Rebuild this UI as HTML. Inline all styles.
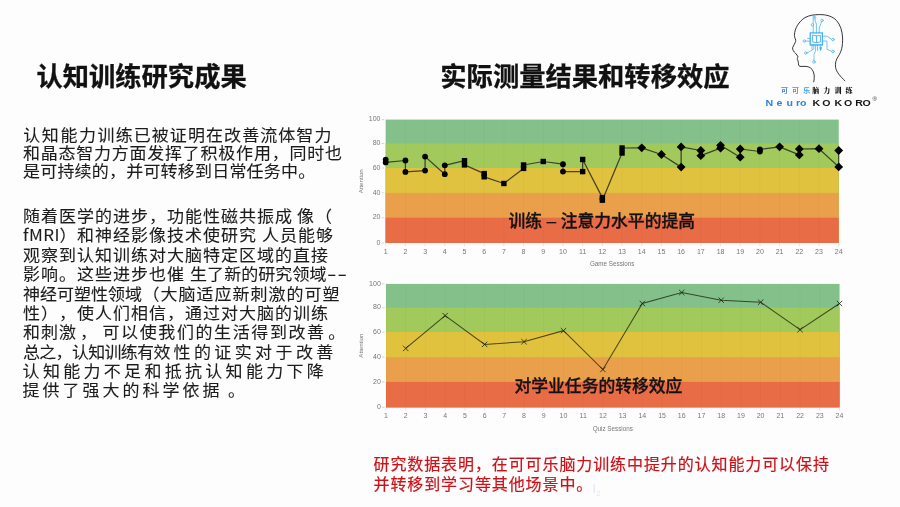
<!DOCTYPE html>
<html lang="zh-CN"><head><meta charset="utf-8"><title>认知训练研究成果</title>
<style>
html,body{margin:0;padding:0;}
body{width:900px;height:507px;overflow:hidden;background:#fdfdfd;position:relative;font-family:"Liberation Sans","Noto Sans CJK SC",sans-serif;color:#1a1a1a;}
.a{position:absolute;white-space:nowrap;}
.h{position:absolute;white-space:nowrap;font-size:26.3px;line-height:26px;font-weight:bold;color:#111;-webkit-text-stroke:0.3px #111;font-family:"Noto Sans CJK SC",sans-serif;}
.ln{position:absolute;white-space:nowrap;font-size:17px;line-height:17px;color:#1c1c1c;font-family:"Noto Sans CJK SC",sans-serif;transform:scaleY(0.95);transform-origin:0 0;-webkit-text-stroke:0.1px #1c1c1c;text-spacing-trim:space-all;}
.red{position:absolute;white-space:nowrap;font-size:16px;line-height:17px;letter-spacing:0.9px;color:#cc1219;-webkit-text-stroke:0.2px #cc1219;font-family:"Noto Sans CJK SC",sans-serif;}
svg text.ax{font-family:"Liberation Sans",sans-serif;font-size:7px;fill:#777;}
svg text.lg1{font-family:"Noto Sans CJK SC",sans-serif;font-size:7px;font-weight:bold;letter-spacing:4.1px;}
svg text.lg2{font-family:"Noto Serif CJK SC",serif;font-size:7px;font-weight:900;letter-spacing:4.1px;fill:#111;}
svg text.lg3{font-family:"Liberation Sans",sans-serif;font-size:9.4px;font-weight:bold;}
svg text.lg4{font-family:"Liberation Sans",sans-serif;font-size:6px;fill:#333;}
svg text.ax3{font-family:"Liberation Sans",sans-serif;font-size:6.3px;fill:#777;}
svg text.ax2{font-family:"Liberation Sans",sans-serif;font-size:6.1px;fill:#777;}
.ov{position:absolute;white-space:nowrap;font-size:16.8px;line-height:17px;font-weight:500;color:#161212;-webkit-text-stroke:0.3px #161212;font-family:"Liberation Sans","Noto Sans CJK SC",sans-serif;}
</style></head><body>
<div class="h" style="left:36.4px;top:61.8px">认知训练研究成果</div>
<div class="h" style="left:440.3px;top:61.8px">实际测量结果和转移效应</div>
<div class="ln" style="top:125.8px;left:23.2px;letter-spacing:1.60px;">认知能力</div>
<div class="ln" style="top:125.8px;left:97.6px;letter-spacing:1.07px;">训练已被证明在改善流体智力</div>
<div class="ln" style="top:143.8px;left:23px;letter-spacing:0.76px;">和晶态智力方面发挥了积极作用，同时也</div>
<div class="ln" style="top:161.8px;left:23px;letter-spacing:0.20px;">是可持续的，并可转移到日常任务中。</div>
<div class="ln" style="top:207.0px;left:23px;letter-spacing:1.00px;">随着医学的进步，功能性磁共振成</div>
<div class="ln" style="top:207.0px;left:297px;letter-spacing:1.00px;">像（</div>
<div class="ln" style="top:226.4px;left:23px;letter-spacing:0.50px;">fMRI</div>
<div class="ln" style="top:226.4px;left:59.5px;letter-spacing:1.00px;">）</div>
<div class="ln" style="top:226.4px;left:77px;letter-spacing:1.00px;">和神经影像技术使研究</div>
<div class="ln" style="top:226.4px;left:262px;letter-spacing:1.00px;">人员能够</div>
<div class="ln" style="top:245.7px;left:23px;letter-spacing:1.00px;">观察到认知训练对大脑特定区域的直接</div>
<div class="ln" style="top:265.1px;left:23px;letter-spacing:1.00px;">影响。这些进步也催</div>
<div class="ln" style="top:265.1px;left:190px;letter-spacing:0.07px;">生了新的研究领域</div>
<div class="ln" style="top:265.1px;left:327px;letter-spacing:0.60px;transform:scale(1.6,0.95);">--</div>
<div class="ln" style="top:284.5px;left:23px;letter-spacing:0.00px;">神经可塑性领域</div>
<div class="ln" style="top:284.5px;left:142.5px;letter-spacing:1.00px;">（</div>
<div class="ln" style="top:284.5px;left:160.5px;letter-spacing:1.00px;">大脑适应新刺激的可塑</div>
<div class="ln" style="top:303.9px;left:23px;letter-spacing:1.00px;">性），使人们相信，通过对大脑的训练</div>
<div class="ln" style="top:323.2px;left:23px;letter-spacing:1.00px;">和刺激</div>
<div class="ln" style="top:323.2px;left:80px;letter-spacing:1.00px;">，</div>
<div class="ln" style="top:323.2px;left:102.5px;letter-spacing:1.60px;">可以使我们的生活得到改善</div>
<div class="ln" style="top:323.2px;left:328.3px;letter-spacing:1.00px;">。</div>
<div class="ln" style="top:342.6px;left:23px;letter-spacing:-0.70px;">总之，认知训练有效</div>
<div class="ln" style="top:342.6px;left:173.5px;letter-spacing:3.40px;">性的证实对于改善</div>
<div class="ln" style="top:362.0px;left:22.6px;letter-spacing:3.30px;">认知能力不足和抵抗认知能力下降</div>
<div class="ln" style="top:381.3px;left:22.6px;letter-spacing:3.00px;">提供了强大的科学依据</div>
<div class="ln" style="top:381.3px;left:228px;letter-spacing:1.00px;">。</div>
<svg class="a" style="left:0;top:0" width="900" height="507" viewBox="0 0 900 507">
<rect x="385.70" y="119.60" width="453.00" height="123.40" fill="#84c18a"/>
<rect x="385.70" y="143.50" width="453.00" height="99.50" fill="#a2c95b"/>
<rect x="385.70" y="168.00" width="453.00" height="75.00" fill="#e0c23e"/>
<rect x="385.70" y="192.90" width="453.00" height="50.10" fill="#eaa04b"/>
<rect x="385.70" y="217.70" width="453.00" height="25.30" fill="#e86c45"/>
<line x1="385.70" y1="119.60" x2="385.70" y2="243.00" stroke="#000" stroke-opacity="0.025" stroke-width="1"/>
<line x1="385.70" y1="243.50" x2="385.70" y2="246.20" stroke="#d8d8d8" stroke-width="0.7"/>
<line x1="405.40" y1="119.60" x2="405.40" y2="243.00" stroke="#000" stroke-opacity="0.025" stroke-width="1"/>
<line x1="405.40" y1="243.50" x2="405.40" y2="246.20" stroke="#d8d8d8" stroke-width="0.7"/>
<line x1="425.09" y1="119.60" x2="425.09" y2="243.00" stroke="#000" stroke-opacity="0.025" stroke-width="1"/>
<line x1="425.09" y1="243.50" x2="425.09" y2="246.20" stroke="#d8d8d8" stroke-width="0.7"/>
<line x1="444.79" y1="119.60" x2="444.79" y2="243.00" stroke="#000" stroke-opacity="0.025" stroke-width="1"/>
<line x1="444.79" y1="243.50" x2="444.79" y2="246.20" stroke="#d8d8d8" stroke-width="0.7"/>
<line x1="464.48" y1="119.60" x2="464.48" y2="243.00" stroke="#000" stroke-opacity="0.025" stroke-width="1"/>
<line x1="464.48" y1="243.50" x2="464.48" y2="246.20" stroke="#d8d8d8" stroke-width="0.7"/>
<line x1="484.18" y1="119.60" x2="484.18" y2="243.00" stroke="#000" stroke-opacity="0.025" stroke-width="1"/>
<line x1="484.18" y1="243.50" x2="484.18" y2="246.20" stroke="#d8d8d8" stroke-width="0.7"/>
<line x1="503.87" y1="119.60" x2="503.87" y2="243.00" stroke="#000" stroke-opacity="0.025" stroke-width="1"/>
<line x1="503.87" y1="243.50" x2="503.87" y2="246.20" stroke="#d8d8d8" stroke-width="0.7"/>
<line x1="523.57" y1="119.60" x2="523.57" y2="243.00" stroke="#000" stroke-opacity="0.025" stroke-width="1"/>
<line x1="523.57" y1="243.50" x2="523.57" y2="246.20" stroke="#d8d8d8" stroke-width="0.7"/>
<line x1="543.27" y1="119.60" x2="543.27" y2="243.00" stroke="#000" stroke-opacity="0.025" stroke-width="1"/>
<line x1="543.27" y1="243.50" x2="543.27" y2="246.20" stroke="#d8d8d8" stroke-width="0.7"/>
<line x1="562.96" y1="119.60" x2="562.96" y2="243.00" stroke="#000" stroke-opacity="0.025" stroke-width="1"/>
<line x1="562.96" y1="243.50" x2="562.96" y2="246.20" stroke="#d8d8d8" stroke-width="0.7"/>
<line x1="582.66" y1="119.60" x2="582.66" y2="243.00" stroke="#000" stroke-opacity="0.025" stroke-width="1"/>
<line x1="582.66" y1="243.50" x2="582.66" y2="246.20" stroke="#d8d8d8" stroke-width="0.7"/>
<line x1="602.35" y1="119.60" x2="602.35" y2="243.00" stroke="#000" stroke-opacity="0.025" stroke-width="1"/>
<line x1="602.35" y1="243.50" x2="602.35" y2="246.20" stroke="#d8d8d8" stroke-width="0.7"/>
<line x1="622.05" y1="119.60" x2="622.05" y2="243.00" stroke="#000" stroke-opacity="0.025" stroke-width="1"/>
<line x1="622.05" y1="243.50" x2="622.05" y2="246.20" stroke="#d8d8d8" stroke-width="0.7"/>
<line x1="641.74" y1="119.60" x2="641.74" y2="243.00" stroke="#000" stroke-opacity="0.025" stroke-width="1"/>
<line x1="641.74" y1="243.50" x2="641.74" y2="246.20" stroke="#d8d8d8" stroke-width="0.7"/>
<line x1="661.44" y1="119.60" x2="661.44" y2="243.00" stroke="#000" stroke-opacity="0.025" stroke-width="1"/>
<line x1="661.44" y1="243.50" x2="661.44" y2="246.20" stroke="#d8d8d8" stroke-width="0.7"/>
<line x1="681.13" y1="119.60" x2="681.13" y2="243.00" stroke="#000" stroke-opacity="0.025" stroke-width="1"/>
<line x1="681.13" y1="243.50" x2="681.13" y2="246.20" stroke="#d8d8d8" stroke-width="0.7"/>
<line x1="700.83" y1="119.60" x2="700.83" y2="243.00" stroke="#000" stroke-opacity="0.025" stroke-width="1"/>
<line x1="700.83" y1="243.50" x2="700.83" y2="246.20" stroke="#d8d8d8" stroke-width="0.7"/>
<line x1="720.53" y1="119.60" x2="720.53" y2="243.00" stroke="#000" stroke-opacity="0.025" stroke-width="1"/>
<line x1="720.53" y1="243.50" x2="720.53" y2="246.20" stroke="#d8d8d8" stroke-width="0.7"/>
<line x1="740.22" y1="119.60" x2="740.22" y2="243.00" stroke="#000" stroke-opacity="0.025" stroke-width="1"/>
<line x1="740.22" y1="243.50" x2="740.22" y2="246.20" stroke="#d8d8d8" stroke-width="0.7"/>
<line x1="759.92" y1="119.60" x2="759.92" y2="243.00" stroke="#000" stroke-opacity="0.025" stroke-width="1"/>
<line x1="759.92" y1="243.50" x2="759.92" y2="246.20" stroke="#d8d8d8" stroke-width="0.7"/>
<line x1="779.61" y1="119.60" x2="779.61" y2="243.00" stroke="#000" stroke-opacity="0.025" stroke-width="1"/>
<line x1="779.61" y1="243.50" x2="779.61" y2="246.20" stroke="#d8d8d8" stroke-width="0.7"/>
<line x1="799.31" y1="119.60" x2="799.31" y2="243.00" stroke="#000" stroke-opacity="0.025" stroke-width="1"/>
<line x1="799.31" y1="243.50" x2="799.31" y2="246.20" stroke="#d8d8d8" stroke-width="0.7"/>
<line x1="819.00" y1="119.60" x2="819.00" y2="243.00" stroke="#000" stroke-opacity="0.025" stroke-width="1"/>
<line x1="819.00" y1="243.50" x2="819.00" y2="246.20" stroke="#d8d8d8" stroke-width="0.7"/>
<line x1="838.70" y1="119.60" x2="838.70" y2="243.00" stroke="#000" stroke-opacity="0.025" stroke-width="1"/>
<line x1="838.70" y1="243.50" x2="838.70" y2="246.20" stroke="#d8d8d8" stroke-width="0.7"/>
<line x1="381.70" y1="243.00" x2="384.20" y2="243.00" stroke="#ccc" stroke-width="0.8"/>
<text x="380.50" y="244.70" class="ax" text-anchor="end">0</text>
<line x1="381.70" y1="217.70" x2="384.20" y2="217.70" stroke="#ccc" stroke-width="0.8"/>
<text x="380.50" y="219.40" class="ax" text-anchor="end">20</text>
<line x1="381.70" y1="192.90" x2="384.20" y2="192.90" stroke="#ccc" stroke-width="0.8"/>
<text x="380.50" y="194.60" class="ax" text-anchor="end">40</text>
<line x1="381.70" y1="168.00" x2="384.20" y2="168.00" stroke="#ccc" stroke-width="0.8"/>
<text x="380.50" y="169.70" class="ax" text-anchor="end">60</text>
<line x1="381.70" y1="143.50" x2="384.20" y2="143.50" stroke="#ccc" stroke-width="0.8"/>
<text x="380.50" y="145.20" class="ax" text-anchor="end">80</text>
<line x1="381.70" y1="119.60" x2="384.20" y2="119.60" stroke="#ccc" stroke-width="0.8"/>
<text x="380.50" y="121.30" class="ax" text-anchor="end">100</text>
<text x="385.70" y="253.80" class="ax" text-anchor="middle">1</text>
<text x="405.40" y="253.80" class="ax" text-anchor="middle">2</text>
<text x="425.09" y="253.80" class="ax" text-anchor="middle">3</text>
<text x="444.79" y="253.80" class="ax" text-anchor="middle">4</text>
<text x="464.48" y="253.80" class="ax" text-anchor="middle">5</text>
<text x="484.18" y="253.80" class="ax" text-anchor="middle">6</text>
<text x="503.87" y="253.80" class="ax" text-anchor="middle">7</text>
<text x="523.57" y="253.80" class="ax" text-anchor="middle">8</text>
<text x="543.27" y="253.80" class="ax" text-anchor="middle">9</text>
<text x="562.96" y="253.80" class="ax" text-anchor="middle">10</text>
<text x="582.66" y="253.80" class="ax" text-anchor="middle">11</text>
<text x="602.35" y="253.80" class="ax" text-anchor="middle">12</text>
<text x="622.05" y="253.80" class="ax" text-anchor="middle">13</text>
<text x="641.74" y="253.80" class="ax" text-anchor="middle">14</text>
<text x="661.44" y="253.80" class="ax" text-anchor="middle">15</text>
<text x="681.13" y="253.80" class="ax" text-anchor="middle">16</text>
<text x="700.83" y="253.80" class="ax" text-anchor="middle">17</text>
<text x="720.53" y="253.80" class="ax" text-anchor="middle">18</text>
<text x="740.22" y="253.80" class="ax" text-anchor="middle">19</text>
<text x="759.92" y="253.80" class="ax" text-anchor="middle">20</text>
<text x="779.61" y="253.80" class="ax" text-anchor="middle">21</text>
<text x="799.31" y="253.80" class="ax" text-anchor="middle">22</text>
<text x="819.00" y="253.80" class="ax" text-anchor="middle">23</text>
<text x="838.70" y="253.80" class="ax" text-anchor="middle">24</text>
<text x="612.20" y="266.20" class="ax3" text-anchor="middle">Game Sessions</text>
<text transform="translate(362.80,181.30) rotate(-90)" class="ax2" text-anchor="middle">Attention</text>
<polyline points="385.70,159.60 385.70,162.40 405.40,160.50 405.40,171.90 425.09,170.60 425.09,156.60 444.79,174.20 444.79,165.30 464.48,160.70 464.48,164.90 484.18,173.60 484.18,176.80 503.87,183.50 523.57,168.40 523.57,165.00 543.27,161.50 562.96,164.20 562.96,171.60 582.66,171.60 582.66,159.50 602.35,197.60 602.35,200.20 622.05,153.00 622.05,148.00 641.74,147.80 661.44,154.50 681.13,167.10 681.13,146.90 700.83,150.50 700.83,155.70 720.53,148.20 720.53,145.30 740.22,157.20 740.22,149.00 759.92,151.50 759.92,149.50 779.61,146.80 799.31,154.90 799.31,149.00 819.00,148.70 838.70,166.90 838.70,150.50" fill="none" stroke="#1e1e1e" stroke-opacity="0.78" stroke-width="1.25" stroke-linejoin="round"/>
<circle cx="385.70" cy="159.60" r="2.9" fill="#000"/>
<circle cx="385.70" cy="162.40" r="2.9" fill="#000"/>
<circle cx="405.40" cy="160.50" r="2.9" fill="#000"/>
<circle cx="405.40" cy="171.90" r="2.9" fill="#000"/>
<circle cx="425.09" cy="170.60" r="2.9" fill="#000"/>
<circle cx="425.09" cy="156.60" r="2.9" fill="#000"/>
<circle cx="444.79" cy="174.20" r="2.9" fill="#000"/>
<circle cx="444.79" cy="165.30" r="2.9" fill="#000"/>
<rect x="461.78" y="158.00" width="5.4" height="5.4" fill="#000"/>
<rect x="461.78" y="162.20" width="5.4" height="5.4" fill="#000"/>
<rect x="481.48" y="170.90" width="5.4" height="5.4" fill="#000"/>
<rect x="481.48" y="174.10" width="5.4" height="5.4" fill="#000"/>
<rect x="501.17" y="180.80" width="5.4" height="5.4" fill="#000"/>
<rect x="520.87" y="165.70" width="5.4" height="5.4" fill="#000"/>
<rect x="520.87" y="162.30" width="5.4" height="5.4" fill="#000"/>
<rect x="540.57" y="158.80" width="5.4" height="5.4" fill="#000"/>
<circle cx="562.96" cy="164.20" r="2.9" fill="#000"/>
<circle cx="562.96" cy="171.60" r="2.9" fill="#000"/>
<rect x="579.96" y="168.90" width="5.4" height="5.4" fill="#000"/>
<rect x="579.96" y="156.80" width="5.4" height="5.4" fill="#000"/>
<rect x="599.65" y="194.90" width="5.4" height="5.4" fill="#000"/>
<rect x="599.65" y="197.50" width="5.4" height="5.4" fill="#000"/>
<rect x="619.35" y="150.30" width="5.4" height="5.4" fill="#000"/>
<rect x="619.35" y="145.30" width="5.4" height="5.4" fill="#000"/>
<path d="M641.74 143.40L646.14 147.80L641.74 152.20L637.34 147.80Z" fill="#000"/>
<path d="M661.44 150.10L665.84 154.50L661.44 158.90L657.04 154.50Z" fill="#000"/>
<path d="M681.13 162.70L685.53 167.10L681.13 171.50L676.73 167.10Z" fill="#000"/>
<path d="M681.13 142.50L685.53 146.90L681.13 151.30L676.73 146.90Z" fill="#000"/>
<path d="M700.83 146.10L705.23 150.50L700.83 154.90L696.43 150.50Z" fill="#000"/>
<path d="M700.83 151.30L705.23 155.70L700.83 160.10L696.43 155.70Z" fill="#000"/>
<path d="M720.53 143.80L724.93 148.20L720.53 152.60L716.13 148.20Z" fill="#000"/>
<path d="M720.53 140.90L724.93 145.30L720.53 149.70L716.13 145.30Z" fill="#000"/>
<path d="M740.22 152.80L744.62 157.20L740.22 161.60L735.82 157.20Z" fill="#000"/>
<path d="M740.22 144.60L744.62 149.00L740.22 153.40L735.82 149.00Z" fill="#000"/>
<circle cx="759.92" cy="151.50" r="2.9" fill="#000"/>
<circle cx="759.92" cy="149.50" r="2.9" fill="#000"/>
<path d="M779.61 142.40L784.01 146.80L779.61 151.20L775.21 146.80Z" fill="#000"/>
<path d="M799.31 150.50L803.71 154.90L799.31 159.30L794.91 154.90Z" fill="#000"/>
<path d="M799.31 144.60L803.71 149.00L799.31 153.40L794.91 149.00Z" fill="#000"/>
<path d="M819.00 144.30L823.40 148.70L819.00 153.10L814.60 148.70Z" fill="#000"/>
<path d="M838.70 162.50L843.10 166.90L838.70 171.30L834.30 166.90Z" fill="#000"/>
<path d="M838.70 146.10L843.10 150.50L838.70 154.90L834.30 150.50Z" fill="#000"/>
<rect x="386.00" y="283.90" width="453.50" height="123.40" fill="#84c18a"/>
<rect x="386.00" y="307.70" width="453.50" height="99.60" fill="#a2c95b"/>
<rect x="386.00" y="332.00" width="453.50" height="75.30" fill="#e0c23e"/>
<rect x="386.00" y="357.20" width="453.50" height="50.10" fill="#eaa04b"/>
<rect x="386.00" y="381.90" width="453.50" height="25.40" fill="#e86c45"/>
<line x1="386.00" y1="283.90" x2="386.00" y2="407.30" stroke="#000" stroke-opacity="0.025" stroke-width="1"/>
<line x1="386.00" y1="407.80" x2="386.00" y2="410.50" stroke="#d8d8d8" stroke-width="0.7"/>
<line x1="405.72" y1="283.90" x2="405.72" y2="407.30" stroke="#000" stroke-opacity="0.025" stroke-width="1"/>
<line x1="405.72" y1="407.80" x2="405.72" y2="410.50" stroke="#d8d8d8" stroke-width="0.7"/>
<line x1="425.43" y1="283.90" x2="425.43" y2="407.30" stroke="#000" stroke-opacity="0.025" stroke-width="1"/>
<line x1="425.43" y1="407.80" x2="425.43" y2="410.50" stroke="#d8d8d8" stroke-width="0.7"/>
<line x1="445.15" y1="283.90" x2="445.15" y2="407.30" stroke="#000" stroke-opacity="0.025" stroke-width="1"/>
<line x1="445.15" y1="407.80" x2="445.15" y2="410.50" stroke="#d8d8d8" stroke-width="0.7"/>
<line x1="464.87" y1="283.90" x2="464.87" y2="407.30" stroke="#000" stroke-opacity="0.025" stroke-width="1"/>
<line x1="464.87" y1="407.80" x2="464.87" y2="410.50" stroke="#d8d8d8" stroke-width="0.7"/>
<line x1="484.59" y1="283.90" x2="484.59" y2="407.30" stroke="#000" stroke-opacity="0.025" stroke-width="1"/>
<line x1="484.59" y1="407.80" x2="484.59" y2="410.50" stroke="#d8d8d8" stroke-width="0.7"/>
<line x1="504.30" y1="283.90" x2="504.30" y2="407.30" stroke="#000" stroke-opacity="0.025" stroke-width="1"/>
<line x1="504.30" y1="407.80" x2="504.30" y2="410.50" stroke="#d8d8d8" stroke-width="0.7"/>
<line x1="524.02" y1="283.90" x2="524.02" y2="407.30" stroke="#000" stroke-opacity="0.025" stroke-width="1"/>
<line x1="524.02" y1="407.80" x2="524.02" y2="410.50" stroke="#d8d8d8" stroke-width="0.7"/>
<line x1="543.74" y1="283.90" x2="543.74" y2="407.30" stroke="#000" stroke-opacity="0.025" stroke-width="1"/>
<line x1="543.74" y1="407.80" x2="543.74" y2="410.50" stroke="#d8d8d8" stroke-width="0.7"/>
<line x1="563.46" y1="283.90" x2="563.46" y2="407.30" stroke="#000" stroke-opacity="0.025" stroke-width="1"/>
<line x1="563.46" y1="407.80" x2="563.46" y2="410.50" stroke="#d8d8d8" stroke-width="0.7"/>
<line x1="583.17" y1="283.90" x2="583.17" y2="407.30" stroke="#000" stroke-opacity="0.025" stroke-width="1"/>
<line x1="583.17" y1="407.80" x2="583.17" y2="410.50" stroke="#d8d8d8" stroke-width="0.7"/>
<line x1="602.89" y1="283.90" x2="602.89" y2="407.30" stroke="#000" stroke-opacity="0.025" stroke-width="1"/>
<line x1="602.89" y1="407.80" x2="602.89" y2="410.50" stroke="#d8d8d8" stroke-width="0.7"/>
<line x1="622.61" y1="283.90" x2="622.61" y2="407.30" stroke="#000" stroke-opacity="0.025" stroke-width="1"/>
<line x1="622.61" y1="407.80" x2="622.61" y2="410.50" stroke="#d8d8d8" stroke-width="0.7"/>
<line x1="642.33" y1="283.90" x2="642.33" y2="407.30" stroke="#000" stroke-opacity="0.025" stroke-width="1"/>
<line x1="642.33" y1="407.80" x2="642.33" y2="410.50" stroke="#d8d8d8" stroke-width="0.7"/>
<line x1="662.04" y1="283.90" x2="662.04" y2="407.30" stroke="#000" stroke-opacity="0.025" stroke-width="1"/>
<line x1="662.04" y1="407.80" x2="662.04" y2="410.50" stroke="#d8d8d8" stroke-width="0.7"/>
<line x1="681.76" y1="283.90" x2="681.76" y2="407.30" stroke="#000" stroke-opacity="0.025" stroke-width="1"/>
<line x1="681.76" y1="407.80" x2="681.76" y2="410.50" stroke="#d8d8d8" stroke-width="0.7"/>
<line x1="701.48" y1="283.90" x2="701.48" y2="407.30" stroke="#000" stroke-opacity="0.025" stroke-width="1"/>
<line x1="701.48" y1="407.80" x2="701.48" y2="410.50" stroke="#d8d8d8" stroke-width="0.7"/>
<line x1="721.20" y1="283.90" x2="721.20" y2="407.30" stroke="#000" stroke-opacity="0.025" stroke-width="1"/>
<line x1="721.20" y1="407.80" x2="721.20" y2="410.50" stroke="#d8d8d8" stroke-width="0.7"/>
<line x1="740.91" y1="283.90" x2="740.91" y2="407.30" stroke="#000" stroke-opacity="0.025" stroke-width="1"/>
<line x1="740.91" y1="407.80" x2="740.91" y2="410.50" stroke="#d8d8d8" stroke-width="0.7"/>
<line x1="760.63" y1="283.90" x2="760.63" y2="407.30" stroke="#000" stroke-opacity="0.025" stroke-width="1"/>
<line x1="760.63" y1="407.80" x2="760.63" y2="410.50" stroke="#d8d8d8" stroke-width="0.7"/>
<line x1="780.35" y1="283.90" x2="780.35" y2="407.30" stroke="#000" stroke-opacity="0.025" stroke-width="1"/>
<line x1="780.35" y1="407.80" x2="780.35" y2="410.50" stroke="#d8d8d8" stroke-width="0.7"/>
<line x1="800.07" y1="283.90" x2="800.07" y2="407.30" stroke="#000" stroke-opacity="0.025" stroke-width="1"/>
<line x1="800.07" y1="407.80" x2="800.07" y2="410.50" stroke="#d8d8d8" stroke-width="0.7"/>
<line x1="819.78" y1="283.90" x2="819.78" y2="407.30" stroke="#000" stroke-opacity="0.025" stroke-width="1"/>
<line x1="819.78" y1="407.80" x2="819.78" y2="410.50" stroke="#d8d8d8" stroke-width="0.7"/>
<line x1="839.50" y1="283.90" x2="839.50" y2="407.30" stroke="#000" stroke-opacity="0.025" stroke-width="1"/>
<line x1="839.50" y1="407.80" x2="839.50" y2="410.50" stroke="#d8d8d8" stroke-width="0.7"/>
<line x1="382.00" y1="407.30" x2="384.50" y2="407.30" stroke="#ccc" stroke-width="0.8"/>
<text x="380.80" y="409.00" class="ax" text-anchor="end">0</text>
<line x1="382.00" y1="381.90" x2="384.50" y2="381.90" stroke="#ccc" stroke-width="0.8"/>
<text x="380.80" y="383.60" class="ax" text-anchor="end">20</text>
<line x1="382.00" y1="357.20" x2="384.50" y2="357.20" stroke="#ccc" stroke-width="0.8"/>
<text x="380.80" y="358.90" class="ax" text-anchor="end">40</text>
<line x1="382.00" y1="332.00" x2="384.50" y2="332.00" stroke="#ccc" stroke-width="0.8"/>
<text x="380.80" y="333.70" class="ax" text-anchor="end">60</text>
<line x1="382.00" y1="307.70" x2="384.50" y2="307.70" stroke="#ccc" stroke-width="0.8"/>
<text x="380.80" y="309.40" class="ax" text-anchor="end">80</text>
<line x1="382.00" y1="283.90" x2="384.50" y2="283.90" stroke="#ccc" stroke-width="0.8"/>
<text x="380.80" y="285.60" class="ax" text-anchor="end">100</text>
<text x="386.00" y="418.10" class="ax" text-anchor="middle">1</text>
<text x="405.72" y="418.10" class="ax" text-anchor="middle">2</text>
<text x="425.43" y="418.10" class="ax" text-anchor="middle">3</text>
<text x="445.15" y="418.10" class="ax" text-anchor="middle">4</text>
<text x="464.87" y="418.10" class="ax" text-anchor="middle">5</text>
<text x="484.59" y="418.10" class="ax" text-anchor="middle">6</text>
<text x="504.30" y="418.10" class="ax" text-anchor="middle">7</text>
<text x="524.02" y="418.10" class="ax" text-anchor="middle">8</text>
<text x="543.74" y="418.10" class="ax" text-anchor="middle">9</text>
<text x="563.46" y="418.10" class="ax" text-anchor="middle">10</text>
<text x="583.17" y="418.10" class="ax" text-anchor="middle">11</text>
<text x="602.89" y="418.10" class="ax" text-anchor="middle">12</text>
<text x="622.61" y="418.10" class="ax" text-anchor="middle">13</text>
<text x="642.33" y="418.10" class="ax" text-anchor="middle">14</text>
<text x="662.04" y="418.10" class="ax" text-anchor="middle">15</text>
<text x="681.76" y="418.10" class="ax" text-anchor="middle">16</text>
<text x="701.48" y="418.10" class="ax" text-anchor="middle">17</text>
<text x="721.20" y="418.10" class="ax" text-anchor="middle">18</text>
<text x="740.91" y="418.10" class="ax" text-anchor="middle">19</text>
<text x="760.63" y="418.10" class="ax" text-anchor="middle">20</text>
<text x="780.35" y="418.10" class="ax" text-anchor="middle">21</text>
<text x="800.07" y="418.10" class="ax" text-anchor="middle">22</text>
<text x="819.78" y="418.10" class="ax" text-anchor="middle">23</text>
<text x="839.50" y="418.10" class="ax" text-anchor="middle">24</text>
<text x="612.75" y="430.50" class="ax3" text-anchor="middle">Quiz Sessions</text>
<text transform="translate(363.10,345.60) rotate(-90)" class="ax2" text-anchor="middle">Attention</text>
<polyline points="405.72,348.40 445.15,315.60 484.59,344.40 524.02,341.70 563.46,330.70 602.89,369.50 642.33,303.50 681.76,292.50 721.20,300.20 760.63,302.20 800.07,329.70 839.50,303.50" fill="none" stroke="#1a1f08" stroke-opacity="0.75" stroke-width="1.05"/>
<path d="M403.02 345.70L408.42 351.10M408.42 345.70L403.02 351.10" stroke="#1a1f08" stroke-opacity="0.8" stroke-width="1.0" fill="none"/>
<path d="M442.45 312.90L447.85 318.30M447.85 312.90L442.45 318.30" stroke="#1a1f08" stroke-opacity="0.8" stroke-width="1.0" fill="none"/>
<path d="M481.89 341.70L487.29 347.10M487.29 341.70L481.89 347.10" stroke="#1a1f08" stroke-opacity="0.8" stroke-width="1.0" fill="none"/>
<path d="M521.32 339.00L526.72 344.40M526.72 339.00L521.32 344.40" stroke="#1a1f08" stroke-opacity="0.8" stroke-width="1.0" fill="none"/>
<path d="M560.76 328.00L566.16 333.40M566.16 328.00L560.76 333.40" stroke="#1a1f08" stroke-opacity="0.8" stroke-width="1.0" fill="none"/>
<path d="M600.19 366.80L605.59 372.20M605.59 366.80L600.19 372.20" stroke="#1a1f08" stroke-opacity="0.8" stroke-width="1.0" fill="none"/>
<path d="M639.63 300.80L645.03 306.20M645.03 300.80L639.63 306.20" stroke="#1a1f08" stroke-opacity="0.8" stroke-width="1.0" fill="none"/>
<path d="M679.06 289.80L684.46 295.20M684.46 289.80L679.06 295.20" stroke="#1a1f08" stroke-opacity="0.8" stroke-width="1.0" fill="none"/>
<path d="M718.50 297.50L723.90 302.90M723.90 297.50L718.50 302.90" stroke="#1a1f08" stroke-opacity="0.8" stroke-width="1.0" fill="none"/>
<path d="M757.93 299.50L763.33 304.90M763.33 299.50L757.93 304.90" stroke="#1a1f08" stroke-opacity="0.8" stroke-width="1.0" fill="none"/>
<path d="M797.37 327.00L802.77 332.40M802.77 327.00L797.37 332.40" stroke="#1a1f08" stroke-opacity="0.8" stroke-width="1.0" fill="none"/>
<path d="M836.80 300.80L842.20 306.20M842.20 300.80L836.80 306.20" stroke="#1a1f08" stroke-opacity="0.8" stroke-width="1.0" fill="none"/>

<defs>
<linearGradient id="gN" gradientUnits="userSpaceOnUse" x1="765" y1="0" x2="807" y2="0"><stop offset="0" stop-color="#2b86d8"/><stop offset="1" stop-color="#46b6ee"/></linearGradient>
<linearGradient id="gK" gradientUnits="userSpaceOnUse" x1="781" y1="0" x2="811" y2="0"><stop offset="0" stop-color="#4f78dc"/><stop offset="1" stop-color="#3aa6ea"/></linearGradient>
</defs>
<path d="M813.8 81.8 C814.8 77 814.4 72.5 812 69.3 C810 67.2 808 66.4 805 66.4 L800 66.4 C798.6 66 798.3 64.5 798.4 62.5 L797.8 60.2 C796.9 59 797.2 57.8 798.2 57 C797.5 55.6 796.5 54.5 795.5 53.2 C793.8 51.8 792.4 49.8 792.6 47.8 C793.5 45.5 795.2 43 795.6 41.5 C796.2 40 794.6 38 794.4 35.5 C794.6 28 799 21.5 805 17.6 C809.5 15.2 814 14.6 819.5 14.6 C826.5 14.5 832.5 16.3 836.5 20.5 C840.5 24.8 842.2 31 842.6 38 C842.8 46 841.5 51.5 838.5 56 C836 59.5 835 63 835.6 67.5 C836.6 72.5 840.5 76.5 844.9 80.8" fill="none" stroke="#2b2b2b" stroke-width="0.95" stroke-linecap="round" stroke-linejoin="round"/>
<g fill="none" stroke="#45b2ee" stroke-width="0.75" stroke-linecap="round" stroke-linejoin="round">
<rect x="810.2" y="32.8" width="12.2" height="12.2" stroke-width="1.3"/>
<path d="M812.6 35.4 L812.6 42 L816.5 42.6 L820.4 42 L820.4 35.4 L816.5 36 Z M816.5 36 L816.5 42.6" stroke-width="0.9"/>
<path d="M813.2 15.8 L813.2 32.8 M815.2 15.8 L815.2 21 L816.4 24 L816.4 32.8 M814.2 15.8 L814.2 19"/>
<circle cx="812.4" cy="24.8" r="1.2" fill="#fff"/>
<circle cx="822" cy="20.4" r="1.3"/>
<path d="M821.5 21.7 L819.2 28 L819.2 32.8"/>
<circle cx="804.3" cy="41.1" r="1.2"/>
<path d="M805.5 41.1 L810.2 41.1 M807.6 38.4 L810.2 38.4"/>
<path d="M822.4 36.2 L827.3 36.2 L831.4 39.2"/>
<circle cx="833" cy="39.6" r="1.3"/>
<path d="M822.4 41 L827 41 L827 49.2 L831.3 51.3"/>
<circle cx="833" cy="51.5" r="1.3"/>
<path d="M812 45 L812 49.5 M813.8 45 L813.8 48.8 L810.8 51 L807 52.8 M815.6 45 L815.6 50.8 L814 54.5 L814 60.6 M817.6 45 L817.6 50.5 M820.6 45 L820.6 48.5"/>
<circle cx="805.7" cy="53" r="1.2"/>
<circle cx="813.9" cy="61.9" r="1.3"/>
<path d="M819.9 47.5 L820.6 50.2 L821.3 47.5" stroke-width="1.2"/>
</g>
<text x="781" y="92.8" class="lg1" fill="url(#gK)">可可乐</text>
<text x="812.2" y="92.8" class="lg2">脑力训练</text>
<text transform="translate(765.4,106.3) scale(1.13,1)" class="lg3" fill="url(#gN)">N</text>
<text transform="translate(776.5,106.3) scale(1.13,1)" class="lg3" fill="url(#gN)">e</text>
<text transform="translate(786.5,106.3) scale(1.13,1)" class="lg3" fill="url(#gN)">u</text>
<text transform="translate(795.9,106.3) scale(1.13,1)" class="lg3" fill="url(#gN)">r</text>
<text transform="translate(799.9,106.3) scale(1.13,1)" class="lg3" fill="url(#gN)">o</text>
<text transform="translate(812.4,106.3) scale(1.13,1)" class="lg3" fill="#151515">K</text>
<text transform="translate(822.3,106.3) scale(1.13,1)" class="lg3" fill="#151515">O</text>
<text transform="translate(834.4,106.3) scale(1.13,1)" class="lg3" fill="#151515">K</text>
<text transform="translate(843.9,106.3) scale(1.13,1)" class="lg3" fill="#151515">O</text>
<text transform="translate(855.3,106.3) scale(1.13,1)" class="lg3" fill="#151515">R</text>
<text transform="translate(862.4,106.3) scale(1.13,1)" class="lg3" fill="#151515">O</text>
<text x="872.4" y="101.3" class="lg4">®</text>

</svg>
<div class="ov" style="left:508.5px;top:213.3px">训练 – 注意力水平的提高</div>
<div class="ov" style="left:514.5px;top:378.3px">对学业任务的转移效应</div>
<div class="red" style="top:455.2px;left:373.5px">研究数据表明，在可可乐脑力训练中提升的认知能力可以保持</div>
<div class="red" style="top:475px;left:373.5px">并转移到学习等其他场景中。</div>
<div class="a" style="left:592.5px;top:483px;font-size:12px;line-height:12px;color:#dfe7ef;font-family:'Liberation Sans',sans-serif">I<sub style="font-size:7.5px;vertical-align:-3px;margin-left:0.3px">2</sub></div>
</body></html>
